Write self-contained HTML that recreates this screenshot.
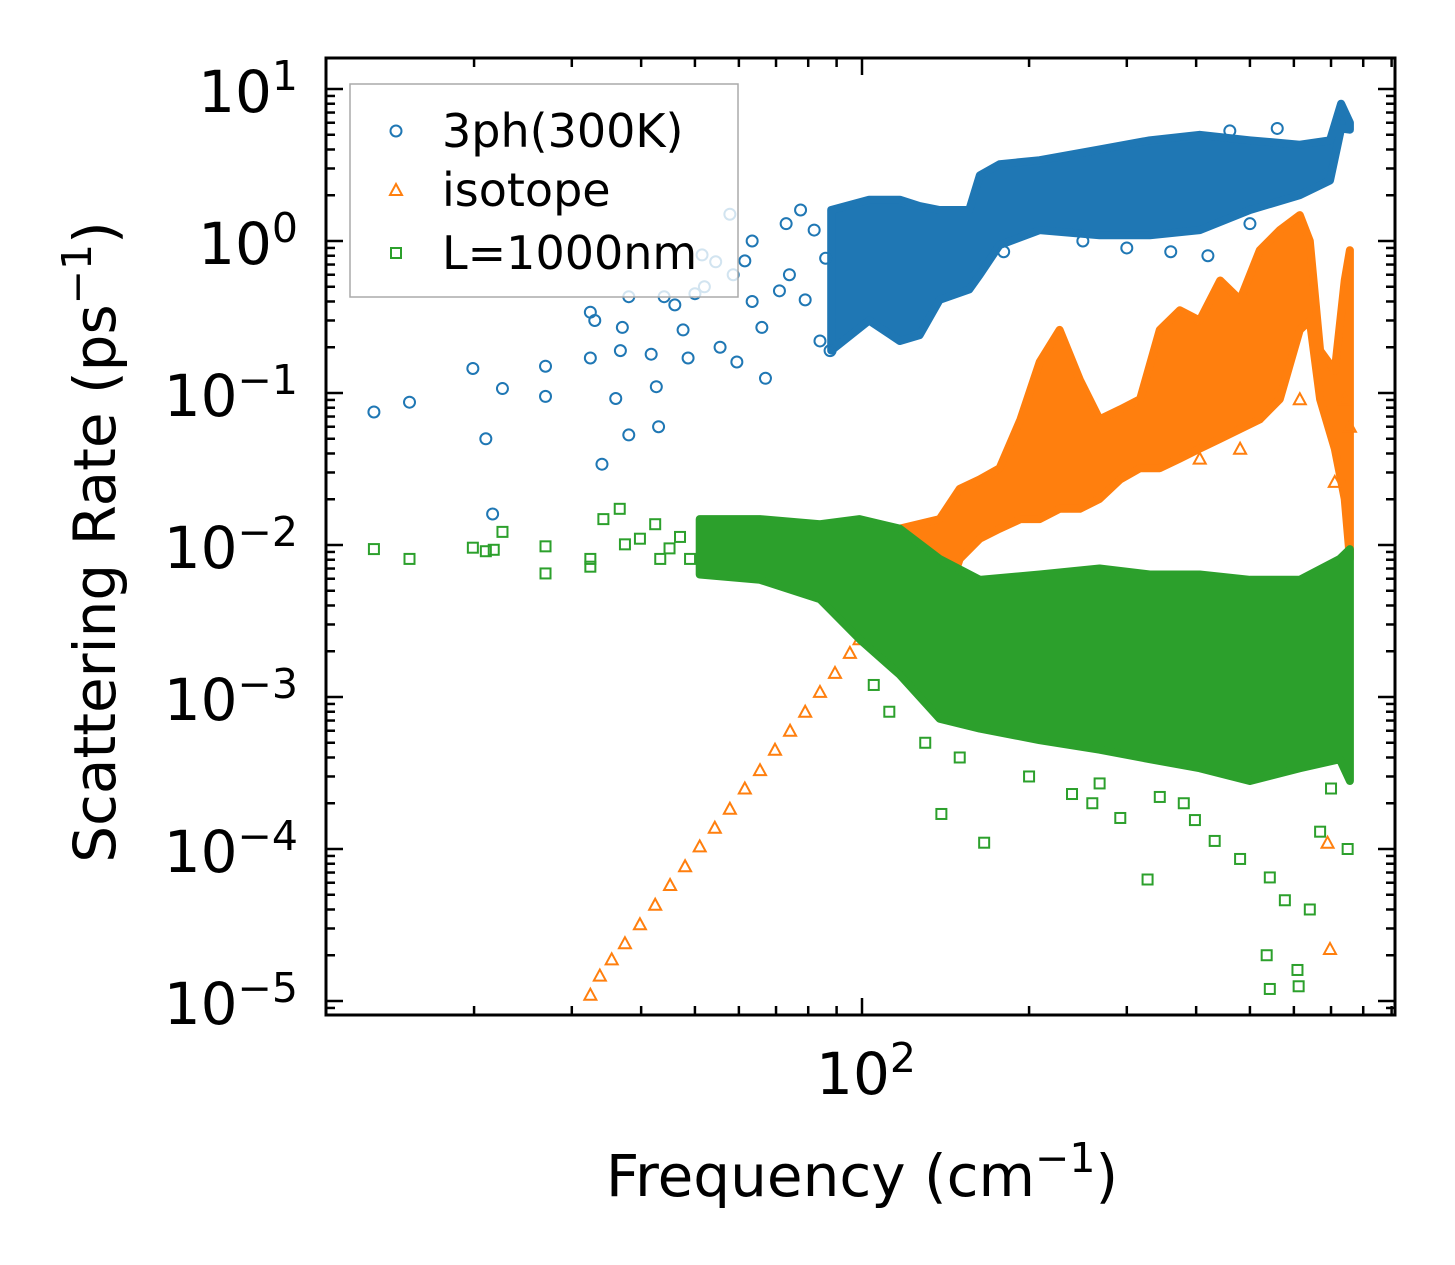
<!DOCTYPE html>
<html><head><meta charset="utf-8"><style>
html,body{margin:0;padding:0;background:#fff}
svg{display:block;font-family:"DejaVu Sans","Liberation Sans",sans-serif}
</style></head><body>
<svg id="chart" width="1455" height="1265" viewBox="0 0 1455 1265">
<g id="marks"></g>
<g id="axes"></g>
<text x="862" y="1196" font-size="58" text-anchor="middle">Frequency (cm<tspan dy="-24" font-size="41">−1</tspan><tspan dy="24">)</tspan></text>
<text transform="translate(115,542) rotate(-90)" font-size="58" text-anchor="middle">Scattering Rate (ps<tspan dy="-24" font-size="41">−1</tspan><tspan dy="24">)</tspan></text>
<g>
<rect x="350" y="84" width="388" height="213" fill="#fff" fill-opacity="0.8" stroke="#aaa" stroke-width="1.5"/>
<circle cx="396" cy="131" r="5.5" fill="none" stroke="#1f77b4" stroke-width="2"/>
<text x="442" y="147" font-size="46">3ph(300K)</text>
<polygon points="396,184 402,195 390,195" fill="none" stroke="#ff7f0e" stroke-width="2"/>
<text x="442" y="206" font-size="46">isotope</text>
<rect x="391" y="248" width="10" height="10" fill="none" stroke="#2ca02c" stroke-width="2"/>
<text x="442" y="269" font-size="46">L=1000nm</text>
</g>
</svg>
<script>
// ---- data ----
const blueEnvFreq=[88,103,117,127,138,156,163,177,209,268,330,406,500,615,697,730,757];
const blueEnvHi=[1.6,1.87,1.87,1.7,1.6,1.6,2.7,3.2,3.4,4.0,4.6,5.0,4.6,4.3,4.6,8.0,6.0];
const blueEnvLo=[0.19,0.30,0.22,0.24,0.41,0.48,0.6,0.94,1.18,1.09,1.09,1.18,1.6,2.0,2.5,5.5,5.4];
const blueFreq=[13.2,15.3,19.9,21,22.5,21.6,26.9,26.9,32.4,32.4,33,34,36,37,36.7,38,38,41.7,42.6,43,44,46,47.6,48.6,50,52,51.5,54.5,55.5,57.8,58.6,59.5,61.5,63.4,63.4,66,67,71,73,74,77.5,79,82,84,86,87.6,300,360,420,500,250,180,460,560];
const blueRate=[0.075,0.087,0.145,0.05,0.107,0.016,0.095,0.15,0.17,0.34,0.3,0.034,0.092,0.27,0.19,0.053,0.43,0.18,0.11,0.06,0.43,0.38,0.26,0.17,0.45,0.5,0.81,0.73,0.2,1.5,0.6,0.16,0.74,1.0,0.4,0.27,0.125,0.47,1.3,0.6,1.6,0.41,1.18,0.22,0.77,0.19,0.9,0.85,0.8,1.3,1.0,0.85,5.3,5.5];
const orangeEnvFreq=[117,138,150,163,177,193,209,227,247,268,292,317,344,374,406,442,480,521,566,615,641,669,711,741,757];
const orangeEnvHi=[0.0128,0.0148,0.0234,0.027,0.032,0.067,0.16,0.26,0.122,0.067,0.078,0.091,0.26,0.35,0.30,0.55,0.41,0.87,1.18,1.48,1.0,0.19,0.14,0.55,0.87];
const orangeEnvLo=[0.0024,0.0032,0.0081,0.011,0.0128,0.0148,0.0148,0.0173,0.0173,0.0201,0.027,0.032,0.032,0.037,0.043,0.05,0.058,0.067,0.091,0.26,0.30,0.091,0.043,0.0201,0.0081];
const orangeFreq=[32.4,33.7,35.4,37.4,39.8,42.4,45.1,48,51,54.3,57.8,61.5,65.5,69.7,74.2,79,84,89.4,95.1,99,104,110,697,690,406,480,615,741,757,711];
const orangeRate=[1.1e-5,1.47e-5,1.88e-5,2.4e-5,3.2e-5,4.3e-5,5.8e-5,7.7e-5,1.04e-4,1.38e-4,1.84e-4,2.5e-4,3.3e-4,4.5e-4,6.0e-4,8.0e-4,1.08e-3,1.44e-3,1.95e-3,2.4e-3,2.9e-3,3.5e-3,2.2e-5,1.1e-4,0.037,0.043,0.091,0.091,0.06,0.026];
const greenEnvFreq=[51,65.5,84,99,117,138,163,209,268,330,406,500,615,726,757];
const greenEnvHi=[0.0148,0.0148,0.0137,0.0148,0.0128,0.0081,0.0059,0.0064,0.0070,0.0064,0.0064,0.0059,0.0059,0.0081,0.0094];
const greenEnvLo=[0.0064,0.0059,0.0044,0.0024,0.0014,0.00072,0.00062,0.00052,0.00045,0.00039,0.00034,0.00028,0.00034,0.00039,0.00028];
const greenFreq=[13.2,15.3,19.9,21,21.7,22.5,26.9,26.9,32.4,32.4,34.2,36.6,37.4,39.8,42.4,43.3,45,47,49,139,166,239,292,327,480,536,543,609,612,578,641,543,432,398,669,344,268,105,112,130,150,200,260,380,700,750];
const greenRate=[0.0094,0.0081,0.0096,0.0091,0.0093,0.0122,0.0098,0.0065,0.0081,0.0072,0.0148,0.0173,0.0101,0.011,0.0137,0.0081,0.0095,0.0113,0.0081,1.7e-4,1.1e-4,2.3e-4,1.6e-4,6.3e-5,8.6e-5,2e-5,1.2e-5,1.6e-5,1.25e-5,4.6e-5,4e-5,6.5e-5,1.13e-4,1.55e-4,1.3e-4,2.2e-4,2.7e-4,0.0012,0.0008,0.0005,0.0004,0.0003,0.0002,0.0002,0.00025,0.0001];
const yTickExps=[1,0,-1,-2,-3,-4,-5];
const xTickExps=[2];

// ---- axes ----
const X0=326,X1=1395,Y0=58,Y1=1015;
const xDec=555, xRef=862;
const yDec=152, yRef=89;
function xs(f){return xRef+(Math.log10(f)-2)*xDec;}
function ys(v){return yRef-(Math.log10(v)-1)*yDec;}
const NS='http://www.w3.org/2000/svg';
const marks=document.getElementById('marks');
const axes=document.getElementById('axes');
function mk(tag,attrs,parent){const e=document.createElementNS(NS,tag);for(const k in attrs)e.setAttribute(k,attrs[k]);parent.appendChild(e);return e;}

const clip=mk('clipPath',{id:'pc'},marks);
mk('rect',{x:X0,y:Y0,width:X1-X0,height:Y1-Y0},clip);
const plot=mk('g',{'clip-path':'url(#pc)'},marks);



function band(fr,hi,lo,color,name){
  let pts=[];
  for(let i=0;i<fr.length;i++)pts.push(xs(fr[i]).toFixed(1)+','+ys(hi[i]).toFixed(1));
  for(let i=fr.length-1;i>=0;i--)pts.push(xs(fr[i]).toFixed(1)+','+ys(lo[i]).toFixed(1));
  const p=mk('polygon',{points:pts.join(' '),fill:color,stroke:color,'stroke-width':8,'stroke-linejoin':'round'},plot);
  
  
}
function scatter(fr,rt,shape,color,name){
  for(let i=0;i<fr.length;i++){
    const x=xs(fr[i]),y=ys(rt[i]);let e;
    if(shape==='c')e=mk('circle',{cx:x,cy:y,r:5.5,fill:'none',stroke:color,'stroke-width':2},plot);
    else if(shape==='t')e=mk('polygon',{points:`${x},${y-6} ${x+6},${y+5} ${x-6},${y+5}`,fill:'none',stroke:color,'stroke-width':2},plot);
    else e=mk('rect',{x:x-5,y:y-5,width:10,height:10,fill:'none',stroke:color,'stroke-width':2},plot);
    
    
  }
}
band(blueEnvFreq,blueEnvHi,blueEnvLo,'#1f77b4','3ph-band');
scatter(blueFreq,blueRate,'c','#1f77b4','3ph-point');
band(orangeEnvFreq,orangeEnvHi,orangeEnvLo,'#ff7f0e','isotope-band');
scatter(orangeFreq,orangeRate,'t','#ff7f0e','isotope-point');
band(greenEnvFreq,greenEnvHi,greenEnvLo,'#2ca02c','boundary-band');
scatter(greenFreq,greenRate,'s','#2ca02c','boundary-point');

const frame=mk('rect',{x:X0,y:Y0,width:X1-X0,height:Y1-Y0,fill:'none',stroke:'#000','stroke-width':3},axes);


function line(x1,y1,x2,y2){mk('line',{x1,y1,x2,y2,stroke:'#000','stroke-width':2.5},axes);}
for(let e=-6;e<=1;e++){
  for(let m=1;m<10;m++){
    const y=ys(m*Math.pow(10,e));
    if(y<Y0||y>Y1)continue;
    const L=m===1?17:9;
    line(X0,y,X0+L,y);line(X1,y,X1-L,y);
  }
}
yTickExps.forEach(e=>{
  const t=mk('text',{x:298,y:ys(Math.pow(10,e))+23,'font-size':58,'text-anchor':'end'},axes);
  
  
  t.innerHTML='10<tspan dy="-22" font-size="41">'+(e<0?'−'+(-e):e)+'</tspan>';
});
for(let e=1;e<=2;e++){
  for(let m=1;m<10;m++){
    const x=xs(m*Math.pow(10,e));
    if(x<X0||x>X1)continue;
    const L=m===1?17:9;
    line(x,Y1,x,Y1-L);line(x,Y0,x,Y0+L);
  }
}
xTickExps.forEach(e=>{
  const t=mk('text',{x:xs(Math.pow(10,e))+4,y:1094,'font-size':58,'text-anchor':'middle'},axes);
  
  
  t.innerHTML='10<tspan dy="-22" font-size="41">'+e+'</tspan>';
});
</script>
</body></html>
